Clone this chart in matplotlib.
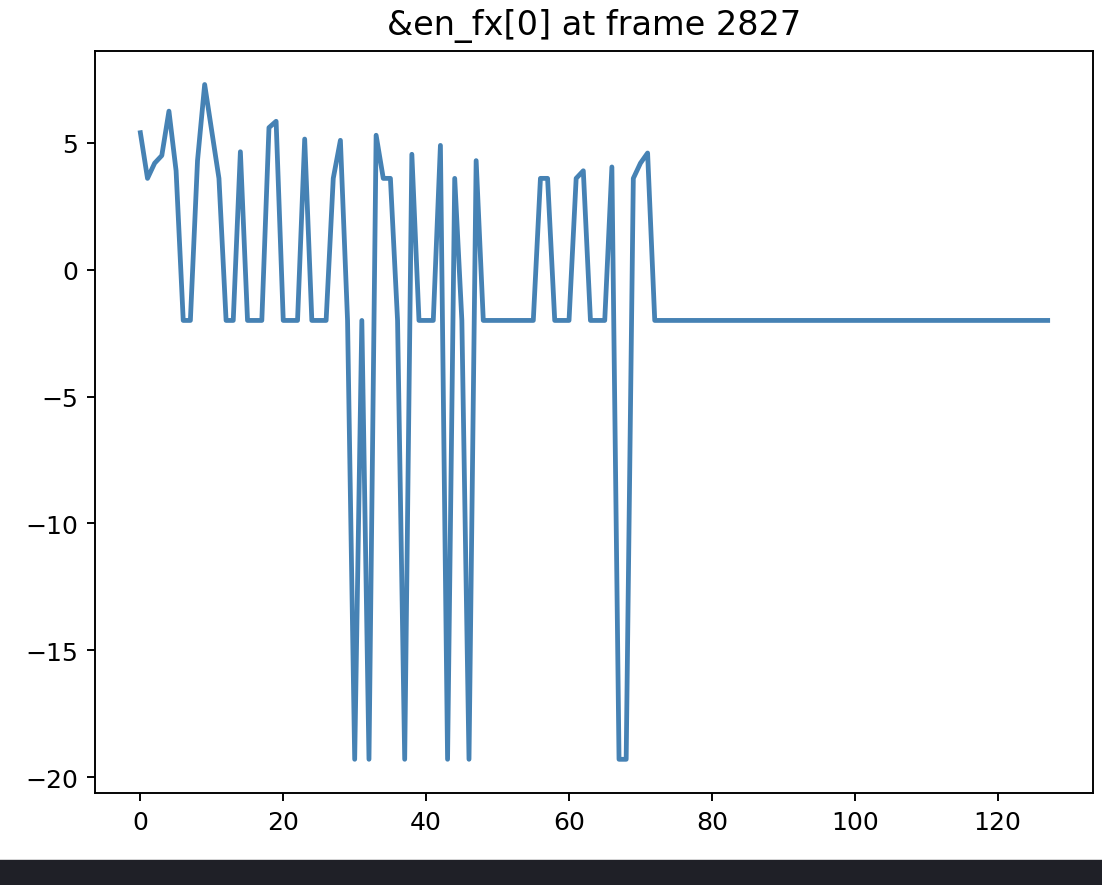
import numpy as np
from matplotlib import pyplot as plt
from matplotlib.patches import Rectangle

# Values of en_fx[0] per index
frame = 2827
head = [5.4, 3.6, 4.2, 4.5, 6.25, 3.9, -2.0, -2.0, 4.3, 7.3,
        5.45, 3.6, -2.0, -2.0, 4.65, -2.0, -2.0, -2.0, 5.6, 5.85,
        -2.0, -2.0, -2.0, 5.15, -2.0, -2.0, -2.0, 3.6, 5.1, -2.0,
        -19.3, -2.0, -19.3, 5.3, 3.6, 3.6, -2.0, -19.3, 4.55, -2.0,
        -2.0, -2.0, 4.9, -19.3, 3.6, -2.0, -19.3, 4.3, -2.0, -2.0,
        -2.0, -2.0, -2.0, -2.0, -2.0, -2.0, 3.6, 3.6, -2.0, -2.0,
        -2.0, 3.6, 3.9, -2.0, -2.0, -2.0, 4.05, -19.3, -19.3, 3.6,
        4.2, 4.6]
tail = [-2.0] * (128 - len(head))
values = np.array(head + tail)
index = np.arange(len(values))

fig = plt.figure(figsize=(6.4, 5.145), dpi=172.2)
ax = fig.add_axes([0.0862, 0.1038, 0.9056, 0.8378])
ax.plot(index, values, color='steelblue', lw=2)
ax.set_title('&en_fx[0] at frame %d' % frame, fontsize=14, pad=7)
ax.tick_params(labelsize=10.5)

# dark strip along the bottom of the screenshot
fig.patches.append(Rectangle((0, 0), 1, 24 / 886, transform=fig.transFigure,
                             color='#1f2027', zorder=-1))

fig.savefig('out.png', dpi=172.2)
